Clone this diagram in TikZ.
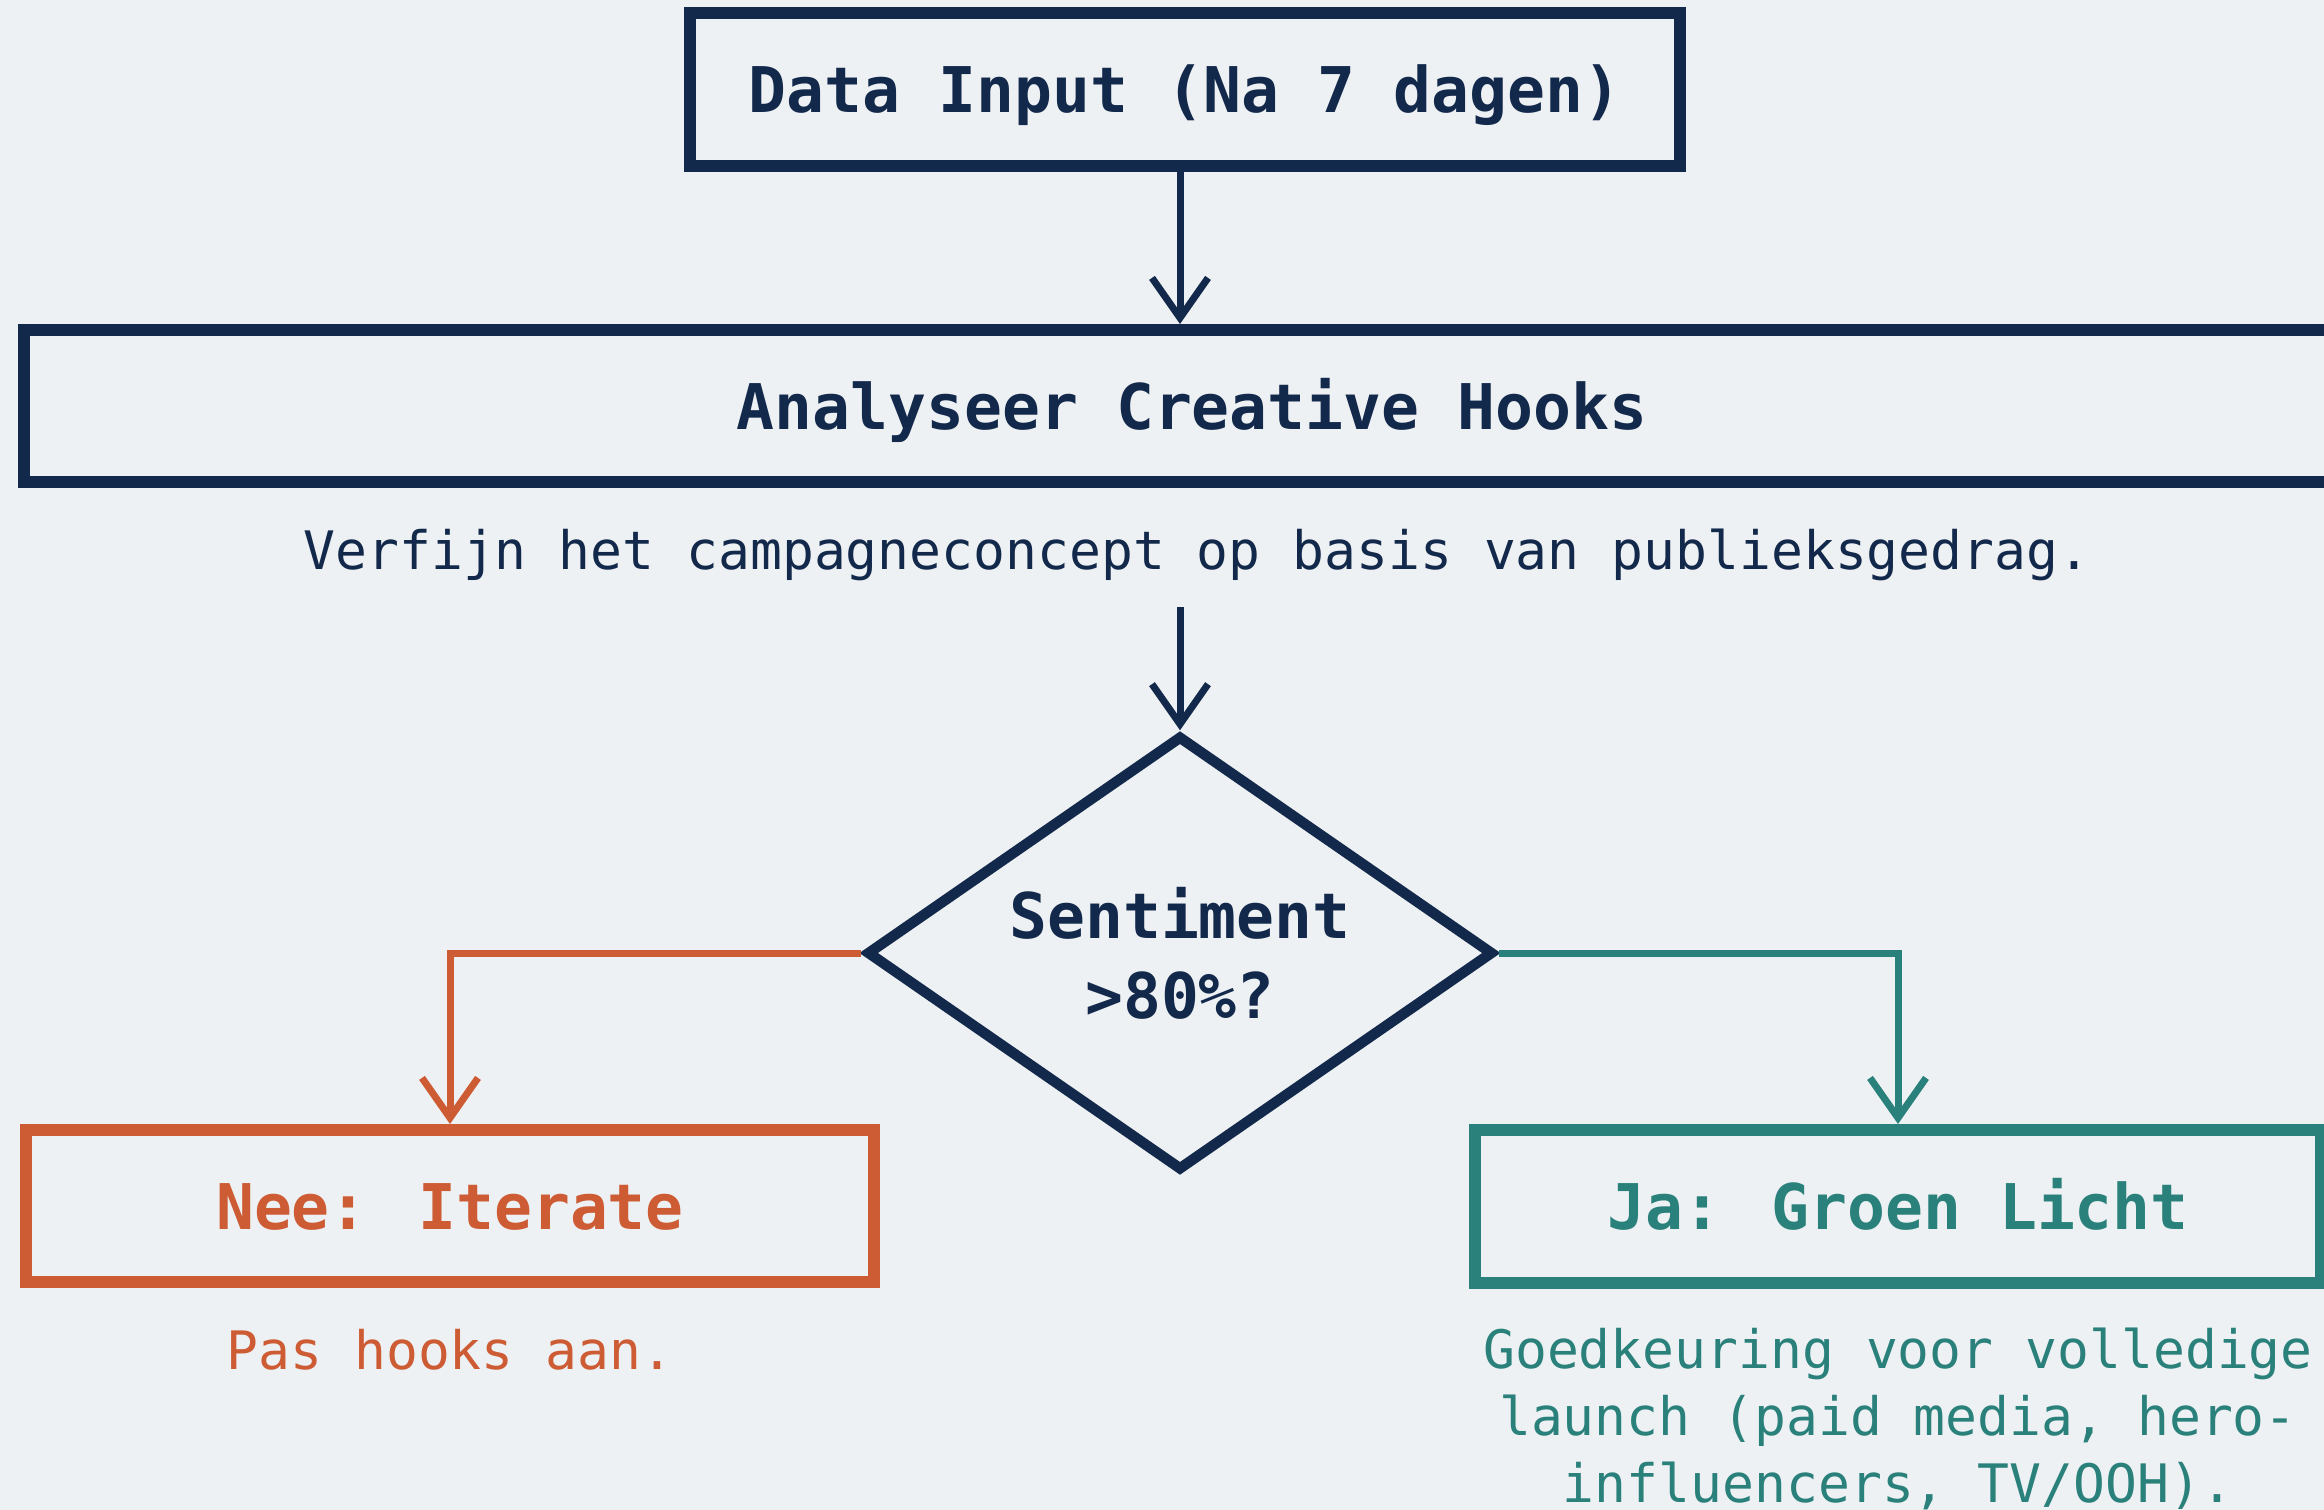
\documentclass[tikz,border=0pt]{standalone}
\usepackage{fontspec}
\setmainfont{DejaVu Sans Mono}
\usetikzlibrary{shapes.geometric,arrows.meta}
\definecolor{navy}{HTML}{13294B}
\definecolor{rust}{HTML}{CD5B34}
\definecolor{teal2}{HTML}{2A807A}
\definecolor{bgcol}{HTML}{EEF1F3}
\begin{document}
\begin{tikzpicture}[x=1pt,y=-1pt,
  headbox/.style={draw, rectangle, line width=12pt, inner sep=0pt,
    font=\fontsize{63}{75}\selectfont\bfseries, text height=46pt, text depth=0pt},
  bodytext/.style={inner sep=0pt, font=\fontsize{53}{67}\selectfont},
  conn/.style={line width=7pt},
  arr/.style={conn, -{Straight Barb[length=40pt,width=56pt]}}]
\fill[bgcol] (0,0) rectangle (2324,1510);
\useasboundingbox (0,0) rectangle (2324,1510);
\clip (0,0) rectangle (2324,1510);

\node[headbox, draw=navy, text=navy, minimum width=990pt, minimum height=153pt] (data) at (1185,89.5) {Data Input (Na 7 dagen)};
\node[headbox, draw=navy, text=navy, minimum width=2336pt, minimum height=152pt] (ana) at (1192,406) {Analyseer Creative Hooks};
\node[bodytext, text=navy, anchor=base] (verf) at (1197,569) {Verfijn het campagneconcept op basis van publieksgedrag.};
\node[diamond, draw=navy, line width=10.5pt, inner sep=0pt, aspect=1.44,
  minimum width=627pt, minimum height=435pt, align=center, text=navy,
  font=\fontsize{63}{80}\selectfont\bfseries] (dia) at (1180,953) {Sentiment\\>80\%?};

\node[headbox, draw=rust, text=rust, minimum width=848pt, minimum height=152pt] (nee) at (450,1206) {Nee: Iterate};
\node[bodytext, text=rust, anchor=base] (neetxt) at (450,1369) {Pas hooks aan.};
\node[headbox, draw=teal2, text=teal2, minimum width=846pt, minimum height=153pt] (ja) at (1898,1206.5) {Ja: Groen Licht};
\node[bodytext, text=teal2, align=center, anchor=north] (jatxt) at (1898,1328) {Goedkeuring voor volledige\\launch (paid media, hero-\\influencers, TV/OOH).};

\path (verf.south) ++(0,26.5) coordinate (vb);
\draw[arr, navy] (data.south -| dia.north) -- (ana.north -| dia.north);
\draw[arr, navy] (vb -| dia.north) -- (dia.north);
\draw[arr, rust] (dia.west) -| (nee.north);
\draw[arr, teal2] (dia.east) -| (ja.north);
\end{tikzpicture}
\end{document}
